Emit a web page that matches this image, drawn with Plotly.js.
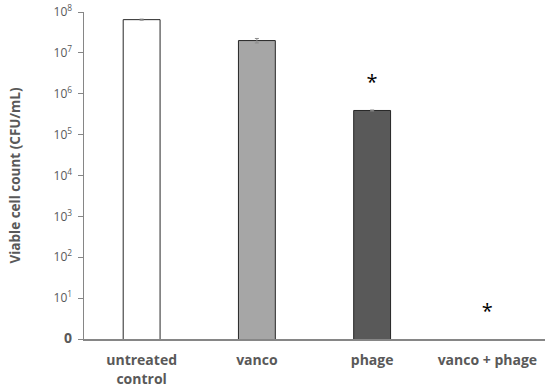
<!DOCTYPE html>
<html><head><meta charset="utf-8">
<script src="https://cdn.plot.ly/plotly-3.0.1.min.js"></script>
<style>html,body{margin:0;padding:0;background:#fff}</style>
</head><body><div id="chart" style="width:550px;height:392px"></div>
<script>
const categories = ["untreated<br>control", "vanco", "phage", "vanco + phage"];
const cellCounts = [6.5e7, 2.0e7, 3.9e5, null];
const errorValues = [2.0e6, 2.5e6, 1.0e4, 0];
const barColors = ["#ffffff", "#a6a6a6", "#595959", "#ffffff"];
const starCategories = ["phage", "vanco + phage"];
const starY = [1.7e6, 4.4];
const tickValues = [1, 1e1, 1e2, 1e3, 1e4, 1e5, 1e6, 1e7, 1e8];
const tickLabels = ["<span style=\"font-size:14px;font-weight:bold\">0</span>", "10<sup>1</sup>", "10<sup>2</sup>", "10<sup>3</sup>", "10<sup>4</sup>", "10<sup>5</sup>", "10<sup>6</sup>", "10<sup>7</sup>", "10<sup>8</sup>"];

const font = "Open Sans, Liberation Sans, sans-serif";
const traces = [
  {
    type: "bar", x: categories, y: cellCounts,
    marker: {color: barColors, line: {color: "#262626", width: 1}},
    error_y: {type: "data", array: errorValues, visible: true, color: "#8c8c8c", thickness: 1, width: 2},
    hoverinfo: "none"
  },
  {
    type: "scatter", mode: "text",
    x: starCategories,
    y: starY, text: starY.map(() => "*"),
    textfont: {family: font, size: 20, color: "#000"},
    textposition: "middle center", hoverinfo: "none"
  }
];
const layout = {
  width: 550, height: 392,
  margin: {l: 84, r: 5, t: 12, b: 53},
  paper_bgcolor: "#fff", plot_bgcolor: "#fff",
  showlegend: false, bargap: 0.68,
  font: {family: font, color: "#595959"},
  xaxis: {
    type: "category", showline: true, linecolor: "#868686", linewidth: 1.5,
    ticks: "", showgrid: false, zeroline: false, ticklabelstandoff: 8,
    tickfont: {family: font, size: 14, color: "#595959", weight: "bold"}
  },
  yaxis: {
    type: "log", range: [0, 8], showline: true, linecolor: "#868686", linewidth: 1.5,
    ticks: "outside", ticklen: 5, tickcolor: "#868686", tickwidth: 1,
    tickvals: tickValues, ticktext: tickLabels, showgrid: false, zeroline: false,
    ticklabelstandoff: 3,
    tickfont: {family: font, size: 12, color: "#595959"},
    title: {text: "Viable cell count (CFU/mL)", font: {family: font, size: 13.5, color: "#595959", weight: "bold"}, standoff: 30}
  }
};
Plotly.newPlot("chart", traces, layout, {displayModeBar: false, staticPlot: true});
</script></body></html>
